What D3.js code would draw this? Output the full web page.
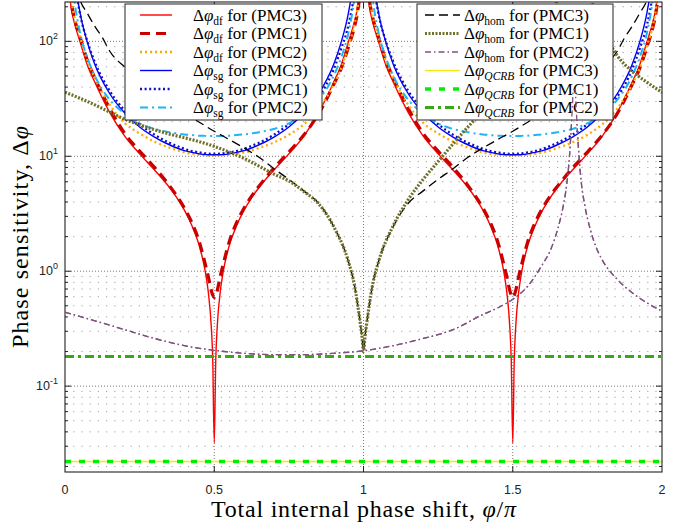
<!DOCTYPE html>
<html lang="en">
<head>
<meta charset="utf-8">
<script src="https://cdn.jsdelivr.net/npm/d3@7/dist/d3.min.js"></script>
<style>
  body { margin: 0; background: #fff; }
  svg text { font-family: "Liberation Serif", "Times New Roman", serif; fill: #000; }
  .tick-label { font-family: "Liberation Sans", Arial, sans-serif; font-size: 12.5px; fill: #222; }
</style>
</head>
<body>
<script>
// ---- data (phi/pi on x, Delta phi on y) ----
// grid for the df / sg curves: poles at 0, 1, 2 and minima at 0.5, 1.5
var phiDS = [0.005,0.01,0.02,0.03,0.05,0.075,0.1,0.15,0.2,0.25,0.3,0.35,0.375,0.4,0.425,0.45,0.47,0.48,0.49,0.495,0.5,
             0.505,0.51,0.52,0.53,0.55,0.575,0.6,0.625,0.65,0.7,0.75,0.8,0.85,0.9,0.925,0.95,0.97,0.98,0.99,0.995,
             1.005,1.01,1.02,1.03,1.05,1.075,1.1,1.15,1.2,1.25,1.3,1.35,1.375,1.4,1.425,1.45,1.47,1.48,1.49,1.495,1.5,
             1.505,1.51,1.52,1.53,1.55,1.575,1.6,1.625,1.65,1.7,1.75,1.8,1.85,1.9,1.925,1.95,1.97,1.98,1.99,1.995];

var dfPMC3 = [900,400,200,150,100,62,44,24,15,10.5,7.6,5.35,4.35,3.4,2.5,1.66,0.99,0.66,0.33,0.168,0.032,
              0.168,0.33,0.66,0.99,1.66,2.5,3.4,4.35,5.35,7.6,10.5,15,24,44,62,100,150,200,400,900,
              900,400,200,150,100,62,44,24,15,10.5,7.6,5.35,4.35,3.4,2.5,1.66,0.99,0.66,0.33,0.168,0.032,
              0.168,0.33,0.66,0.99,1.66,2.5,3.4,4.35,5.35,7.6,10.5,15,24,44,62,100,150,200,400,900];
var dfPMC1 = [1000,450,230,165,110,68,48,26,15.8,11.1,8.0,5.55,4.5,3.55,2.65,1.8,1.15,0.9,0.68,0.62,0.59,
              0.62,0.68,0.9,1.15,1.8,2.65,3.55,4.5,5.5,7.9,10.9,15.3,23.5,42,58,90,135,180,320,800,
              1000,450,230,165,110,68,48,26,15.8,11.1,8.0,5.55,4.5,3.55,2.65,1.8,1.15,0.9,0.68,0.62,0.59,
              0.62,0.68,0.9,1.15,1.8,2.65,3.55,4.5,5.5,7.9,10.9,15.3,23.5,42,58,90,135,180,320,800];
var dfPMC2 = [1000,480,240,170,110,68,48,28,19.5,15.8,13.4,11.9,11.3,10.8,10.5,10.3,10.25,10.2,10.2,10.2,10.2,
              10.2,10.2,10.2,10.25,10.3,10.5,10.8,11.2,11.8,13.2,15.4,19,26,42,58,92,140,195,380,850,
              1000,480,240,170,110,68,48,28,19.5,15.8,13.4,11.9,11.3,10.8,10.5,10.3,10.25,10.2,10.2,10.2,10.2,
              10.2,10.2,10.2,10.25,10.3,10.5,10.8,11.2,11.8,13.2,15.4,19,26,42,58,92,140,195,380,850];
var sgPMC3 = [9000,3000,800,400,180,98,63,35,23.8,18,14.7,12.6,11.8,11.2,10.8,10.5,10.35,10.3,10.3,10.3,10.3,
              10.3,10.3,10.3,10.35,10.5,10.8,11.2,11.8,12.6,14.7,18,23.8,35,63,98,180,400,800,3000,9000,
              9000,3000,800,400,180,98,63,35,23.8,18,14.7,12.6,11.8,11.2,10.8,10.5,10.35,10.3,10.3,10.3,10.3,
              10.3,10.3,10.3,10.35,10.5,10.8,11.2,11.8,12.6,14.7,18,23.8,35,63,98,180,400,800,3000,9000];
var sgPMC1 = [6000,2500,700,380,175,100,66,37,25,19,15.4,13.1,12.3,11.6,11.1,10.8,10.6,10.55,10.5,10.5,10.5,
              10.5,10.5,10.55,10.6,10.8,11.1,11.6,12.3,13.1,15.4,19,24.5,33,57,86,140,270,450,1300,4000,
              6000,2500,700,380,175,100,66,37,25,19,15.4,13.1,12.3,11.6,11.1,10.8,10.6,10.55,10.5,10.5,10.5,
              10.5,10.5,10.55,10.6,10.8,11.1,11.6,12.3,13.1,15.4,19,24.5,33,57,86,140,270,450,1300,4000];
var sgPMC2 = [3500,1100,400,240,120,72,50,31,23.5,19.3,17.3,16.2,15.8,15.5,15.3,15.1,15.05,15,15,15,15,
              15,15,15,15.05,15.1,15.3,15.5,15.8,16.2,17.3,19.3,23.5,31,50,72,120,240,400,1100,3500,
              3500,1100,400,240,120,72,50,31,23.5,19.3,17.3,16.2,15.8,15.5,15.3,15.1,15.05,15,15,15,15,
              15,15,15,15.05,15.1,15.3,15.5,15.8,16.2,17.3,19.3,23.5,31,50,72,120,240,400,1100,3500];

var phiHom3 = [0.02,0.03,0.05,0.075,0.1,0.125,0.15,0.2,0.25,0.3,0.35,0.4,0.45,0.5,0.55,0.6,0.65,0.7,0.75,0.8,
               0.85,0.9,0.95,0.97,0.98,0.99,0.995,1.0,1.005,1.01,1.02,1.03,1.05,1.1,1.15,1.2,1.25,1.3,1.35,
               1.4,1.45,1.5,1.55,1.6,1.65,1.7,1.75,1.8,1.85,1.875,1.9,1.925,1.95,1.97,1.98];
var homPMC3 = [500,360,230,175,135,108,82,60,47,37,29.5,24,19.8,16.5,14,11.8,9.8,7.8,6.3,5.0,
               3.9,2.45,1.2,0.75,0.52,0.34,0.27,0.2,0.27,0.34,0.52,0.75,1.2,2.45,3.9,5.0,6.3,7.8,9.8,
               11.8,14,16.5,19.8,24,29.5,37,47,60,82,108,135,175,230,360,500];

var phiHom1 = [0,0.05,0.1,0.15,0.2,0.25,0.3,0.35,0.4,0.45,0.5,0.55,0.6,0.65,0.7,0.75,0.8,0.85,0.9,0.95,
               0.97,0.98,0.99,0.995,1.0,1.005,1.01,1.02,1.03,1.05,1.1,1.15,1.2,1.25,1.3,1.35,1.4,1.45,
               1.5,1.55,1.6,1.65,1.68,1.695,1.71,1.72,1.74,1.77,1.8,1.85,1.9,1.95,2.0];
var homPMC1 = [36,32,28,24.2,21,18.8,17,15.6,14.5,13.4,12.2,10.9,9.6,8.2,7.0,6.1,4.95,3.85,2.45,1.2,
               0.75,0.52,0.34,0.27,0.2,0.27,0.34,0.52,0.75,1.2,2.5,4.2,6.3,9.0,12.8,18,25,35,
               50,75,120,240,500,1500,2500,1000,420,200,130,75,55,44,36];

var phiHom2 = [0,0.1,0.2,0.3,0.4,0.5,0.6,0.7,0.8,0.9,1.0,1.1,1.2,1.3,1.4,1.45,1.5,1.55,1.6,1.625,
               1.65,1.67,1.68,1.69,1.695,1.7,1.703,1.709,1.712,1.717,1.722,1.73,1.74,1.76,1.78,1.8,
               1.85,1.9,1.95,2.0];
var homPMC2 = [0.44,0.37,0.31,0.26,0.225,0.205,0.193,0.188,0.188,0.193,0.203,0.225,0.26,0.31,0.42,0.48,0.57,0.74,1.15,1.5,
               2.3,3.8,5.5,10,16,28,38,38,28,16,10,5.8,3.9,2.3,1.6,1.25,
               0.85,0.65,0.53,0.45];

var phiQ = [0, 2];
var qcrbPMC3 = [0.0221, 0.0221];
var qcrbPMC1 = [0.0221, 0.0221];
var qcrbPMC2 = [0.181, 0.181];

var xTicks = [0, 0.5, 1, 1.5, 2];
var xTickLabels = ["0", "0.5", "1", "1.5", "2"];
var yTicks = [0.1, 1, 10, 100];
var yTickExp = ["-1", "0", "1", "2"];

// ---- chart ----
var w = 690, h = 524;
var plotL = 65, plotR = 662, plotT = 2, plotB = 472;
var serif = "'Liberation Serif', 'Times New Roman', serif";

var x = d3.scaleLinear().domain([0, 2]).range([plotL, plotR]);
var y = d3.scaleLog().domain([0.0179, 220]).range([plotB, plotT]);

var svg = d3.select("body").append("svg")
    .attr("width", w)
    .attr("height", h);

svg.append("defs").append("clipPath").attr("id", "plotclip")
  .append("rect")
    .attr("x", plotL).attr("y", plotT)
    .attr("width", plotR - plotL).attr("height", plotB - plotT);

// grid
var minor = y.ticks().filter(function(v) {
  var e = Math.log10(v);
  return Math.abs(e - Math.round(e)) > 1e-6;
});
svg.append("g").selectAll("line").data(minor).enter().append("line")
    .attr("x1", plotL).attr("x2", plotR)
    .attr("y1", function(d) { return y(d); }).attr("y2", function(d) { return y(d); })
    .attr("stroke", "#8a8a8a").attr("stroke-width", 0.8)
    .attr("stroke-dasharray", "1.2,7");
svg.append("g").selectAll("line").data(yTicks).enter().append("line")
    .attr("x1", plotL).attr("x2", plotR)
    .attr("y1", function(d) { return y(d); }).attr("y2", function(d) { return y(d); })
    .attr("stroke", "#555").attr("stroke-width", 0.8)
    .attr("stroke-dasharray", "1,2");
svg.append("g").selectAll("line").data([0.5, 1, 1.5]).enter().append("line")
    .attr("y1", plotT).attr("y2", plotB)
    .attr("x1", function(d) { return x(d); }).attr("x2", function(d) { return x(d); })
    .attr("stroke", "#555").attr("stroke-width", 0.8)
    .attr("stroke-dasharray", "1,2");

// series, in plotting order
var series = [
  {phi: phiDS, val: dfPMC3, color: "#ff0000", width: 1.4, dash: null, sub: "df", it: false, pmc: "PMC3", leg: 1},
  {phi: phiDS, val: dfPMC1, color: "#c80000", width: 3.2, dash: "10,6", sub: "df", it: false, pmc: "PMC1", leg: 1},
  {phi: phiDS, val: dfPMC2, color: "#ffaa00", width: 2.3, dash: "2,3", sub: "df", it: false, pmc: "PMC2", leg: 1},
  {phi: phiDS, val: sgPMC3, color: "#0000ff", width: 1.4, dash: null, sub: "sg", it: false, pmc: "PMC3", leg: 1},
  {phi: phiDS, val: sgPMC1, color: "#1010c0", width: 2.3, dash: "2,2.6", sub: "sg", it: false, pmc: "PMC1", leg: 1},
  {phi: phiDS, val: sgPMC2, color: "#1eb4f5", width: 2, dash: "8,4,2,4", sub: "sg", it: false, pmc: "PMC2", leg: 1},
  {phi: phiHom3, val: homPMC3, color: "#000000", width: 1.3, dash: "9,5", sub: "hom", it: false, pmc: "PMC3", leg: 2},
  {phi: phiHom1, val: homPMC1, color: "#70702a", width: 3.2, dash: "2,1.5", sub: "hom", it: false, pmc: "PMC1", leg: 2},
  {phi: phiHom2, val: homPMC2, color: "#80527f", width: 1.3, dash: "6,3,1.5,3", sub: "hom", it: false, pmc: "PMC2", leg: 2},
  {phi: phiQ, val: qcrbPMC3, color: "#f5ea10", width: 1.6, dash: null, sub: "QCRB", it: true, pmc: "PMC3", leg: 2},
  {phi: phiQ, val: qcrbPMC1, color: "#00ee00", width: 3.6, dash: "6,8", sub: "QCRB", it: true, pmc: "PMC1", leg: 2},
  {phi: phiQ, val: qcrbPMC2, color: "#38a818", width: 3, dash: "9,4,3,4", sub: "QCRB", it: true, pmc: "PMC2", leg: 2}
];

var line = d3.line()
    .x(function(d) { return x(d[0]); })
    .y(function(d) { return y(d[1]); })
    .curve(d3.curveMonotoneX);

function drawSeries(g, s) {
  g.append("path")
      .attr("d", line(d3.zip(s.phi, s.val)))
      .attr("fill", "none")
      .attr("stroke", s.color)
      .attr("stroke-width", s.width)
      .attr("stroke-dasharray", s.dash);
}

var curves = svg.append("g").attr("clip-path", "url(#plotclip)");
series.forEach(function(s) { drawSeries(curves, s); });

// frame and ticks
svg.append("rect")
    .attr("x", plotL).attr("y", plotT)
    .attr("width", plotR - plotL).attr("height", plotB - plotT)
    .attr("fill", "none").attr("stroke", "#222").attr("stroke-width", 1.1);

var tk = svg.append("g").attr("stroke", "#222").attr("stroke-width", 1);
[0.5, 1, 1.5].forEach(function(v) {
  tk.append("line").attr("x1", x(v)).attr("x2", x(v)).attr("y1", plotB).attr("y2", plotB - 6);
  tk.append("line").attr("x1", x(v)).attr("x2", x(v)).attr("y1", plotT).attr("y2", plotT + 6);
});
yTicks.forEach(function(v) {
  tk.append("line").attr("x1", plotL).attr("x2", plotL + 6).attr("y1", y(v)).attr("y2", y(v));
  tk.append("line").attr("x1", plotR).attr("x2", plotR - 6).attr("y1", y(v)).attr("y2", y(v));
});
minor.forEach(function(v) {
  tk.append("line").attr("x1", plotL).attr("x2", plotL + 3).attr("y1", y(v)).attr("y2", y(v));
  tk.append("line").attr("x1", plotR).attr("x2", plotR - 3).attr("y1", y(v)).attr("y2", y(v));
});

// tick labels
svg.append("g").selectAll("text").data(xTicks).enter().append("text")
    .attr("class", "tick-label")
    .attr("x", function(d) { return x(d); })
    .attr("y", 494)
    .attr("text-anchor", "middle")
    .text(function(d, i) { return xTickLabels[i]; });

yTicks.forEach(function(v, i) {
  var t = svg.append("text").attr("class", "tick-label")
      .attr("x", 58).attr("y", y(v) + 4).attr("text-anchor", "end");
  t.append("tspan").text("10");
  t.append("tspan").attr("dy", -6).attr("font-size", "9px").text(yTickExp[i]);
});

// axis labels
var xl = svg.append("text")
    .attr("x", (plotL + plotR) / 2).attr("y", 517)
    .attr("text-anchor", "middle")
    .attr("font-family", serif)
    .attr("font-size", "24px")
    .attr("textLength", 305).attr("lengthAdjust", "spacing");
xl.append("tspan").text("Total internal phase shift, ");
xl.append("tspan").attr("font-style", "italic").text("φ");
xl.append("tspan").text("/");
xl.append("tspan").attr("font-style", "italic").text("π");

var yl = svg.append("text")
    .attr("transform", "translate(28," + ((plotT + plotB) / 2) + ") rotate(-90)")
    .attr("text-anchor", "middle")
    .attr("font-family", serif)
    .attr("font-size", "24px")
    .attr("textLength", 222).attr("lengthAdjust", "spacing");
yl.append("tspan").text("Phase sensitivity, Δ");
yl.append("tspan").attr("font-style", "italic").text("φ");

// legends
var legendBoxes = {1: {x: 125, w: 197, lx1: 140, lx2: 172, tx: 193},
                   2: {x: 417, w: 196, lx1: 425, lx2: 460, tx: 464}};
[1, 2].forEach(function(k) {
  var b = legendBoxes[k];
  var g = svg.append("g");
  g.append("rect")
      .attr("x", b.x).attr("y", 4).attr("width", b.w).attr("height", 116)
      .attr("fill", "#fff").attr("stroke", "#222").attr("stroke-width", 1);
  series.filter(function(s) { return s.leg === k; }).forEach(function(s, i) {
    var cy = 15 + i * 18.5;
    g.append("line")
        .attr("x1", b.lx1).attr("x2", b.lx2).attr("y1", cy).attr("y2", cy)
        .attr("stroke", s.color).attr("stroke-width", s.width)
        .attr("stroke-dasharray", s.dash);
    var t = g.append("text").attr("x", b.tx).attr("y", cy + 5.5)
        .attr("font-family", serif).attr("font-size", "17px");
    t.append("tspan").text("Δ");
    t.append("tspan").attr("font-style", "italic").text("φ");
    t.append("tspan").attr("font-size", "11.5px").attr("dy", 4)
        .attr("font-style", s.it ? "italic" : null).text(s.sub);
    t.append("tspan").attr("dy", -4).text(" for (" + s.pmc + ")");
  });
});

// the tip of the hom (PMC2) peak shows through the right legend box
drawSeries(svg.append("g").attr("clip-path", "url(#plotclip)"), series[8]);
</script>
</body>
</html>
